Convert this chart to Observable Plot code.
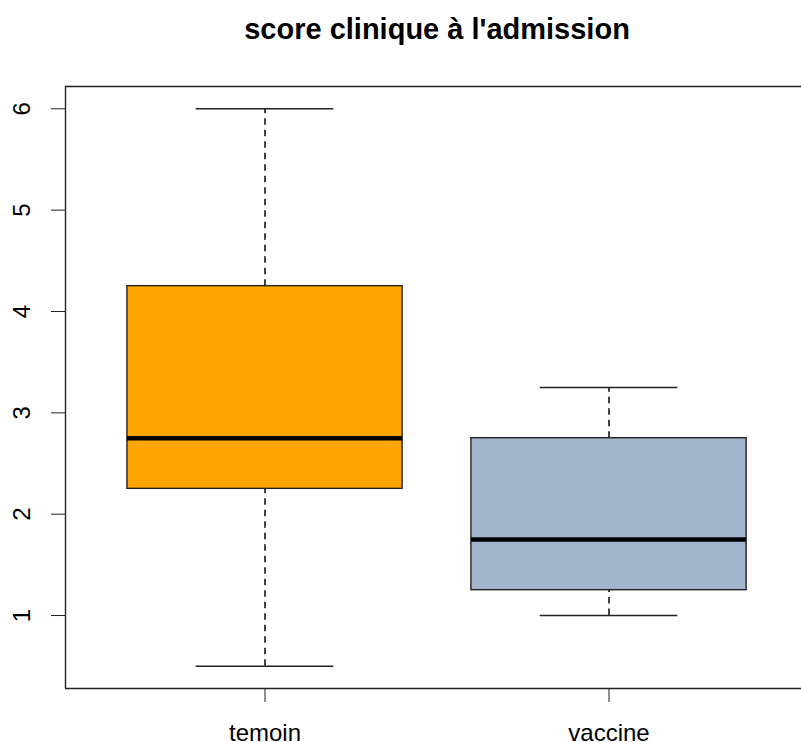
<!DOCTYPE html>
<html>
<head>
<meta charset="utf-8">
<script src="https://cdn.jsdelivr.net/npm/d3@7"></script>
<script src="https://cdn.jsdelivr.net/npm/@observablehq/plot@0.6"></script>
<style>
  html, body { margin: 0; padding: 0; background: #fff; }
  #chart svg { display: block; }
</style>
</head>
<body>
<div id="chart"></div>
<script>
// ---- data ----
const groups = ["temoin", "vaccine"];
const mins = [0.5, 1.0];
const q1s = [2.25, 1.25];
const medians = [2.75, 1.75];
const q3s = [4.25, 2.75];
const maxs = [6.0, 3.25];
const colors = ["#FFA500", "#A2B5CD"];
const yTicks = [1, 2, 3, 4, 5, 6];
const title = "score clinique à l'admission";

const rows = groups.map((g, i) => ({
  group: g, pos: i + 1, min: mins[i], q1: q1s[i], med: medians[i], q3: q3s[i], max: maxs[i], color: colors[i]
}));

const W = 801, H = 742;
const mL = 65, mT = 86, mB = 54;
const unit = 344; // px per group step
const xDomain = [0.42, 0.42 + (W - mL) / unit];
const yDomain = [0.28, 6.22];
const font = "'Liberation Sans', Arial, Helvetica, sans-serif";
const ink = "#222";

const chart = Plot.plot({
  width: W,
  height: H,
  marginLeft: mL,
  marginRight: 0,
  marginTop: mT,
  marginBottom: mB,
  style: { fontFamily: font, color: "#000", background: "#fff" },
  x: { type: "linear", domain: xDomain, label: null },
  y: { type: "linear", domain: yDomain, label: null },
  marks: [
    // whiskers (dashed)
    Plot.ruleX(rows, { x: "pos", y1: "q3", y2: "max", stroke: "#111", strokeWidth: 1.6, strokeDasharray: "6.5,5" }),
    Plot.ruleX(rows, { x: "pos", y1: "min", y2: "q1", stroke: "#111", strokeWidth: 1.6, strokeDasharray: "6.5,5" }),
    // whisker caps
    Plot.ruleY(rows, { y: "max", x1: d => d.pos - 0.2, x2: d => d.pos + 0.2, stroke: ink, strokeWidth: 1.4 }),
    Plot.ruleY(rows, { y: "min", x1: d => d.pos - 0.2, x2: d => d.pos + 0.2, stroke: ink, strokeWidth: 1.4 }),
    // boxes
    Plot.rect(rows, { x1: d => d.pos - 0.4, x2: d => d.pos + 0.4, y1: "q1", y2: "q3", fill: d => d.color, stroke: ink, strokeWidth: 1.4 }),
    // medians
    Plot.ruleY(rows, { y: "med", x1: d => d.pos - 0.4, x2: d => d.pos + 0.4, stroke: "#000", strokeWidth: 4.5 }),
    // frame (left, top, bottom; right edge lies outside the picture)
    Plot.ruleX([xDomain[0]], { y1: yDomain[0], y2: yDomain[1], stroke: ink, strokeWidth: 1.4 }),
    Plot.ruleY([yDomain[0], yDomain[1]], { x1: xDomain[0], x2: xDomain[1], stroke: ink, strokeWidth: 1.4 }),
    // axes
    Plot.axisX({ ticks: [1, 2], tickSize: 14, tickPadding: 21, tickFormat: d => groups[d - 1], fontSize: 24, stroke: ink, fill: "#000", label: null }),
    Plot.axisY({ ticks: yTicks, tickSize: 14, tickFormat: () => "", stroke: ink, label: null }),
    Plot.text(yTicks, { x: xDomain[0], y: d => d, text: d => String(d), dx: -43, rotate: -90, fontSize: 24, textAnchor: "middle", lineAnchor: "middle", fill: "#000" }),
    // title
    Plot.text([title], { x: (0.42 + 2.58) / 2, y: yDomain[1], text: d => d, dy: -57, fontSize: 29, fontWeight: "bold", textAnchor: "middle", lineAnchor: "middle", fill: "#000" })
  ]
});

document.getElementById("chart").appendChild(chart);
</script>
</body>
</html>
